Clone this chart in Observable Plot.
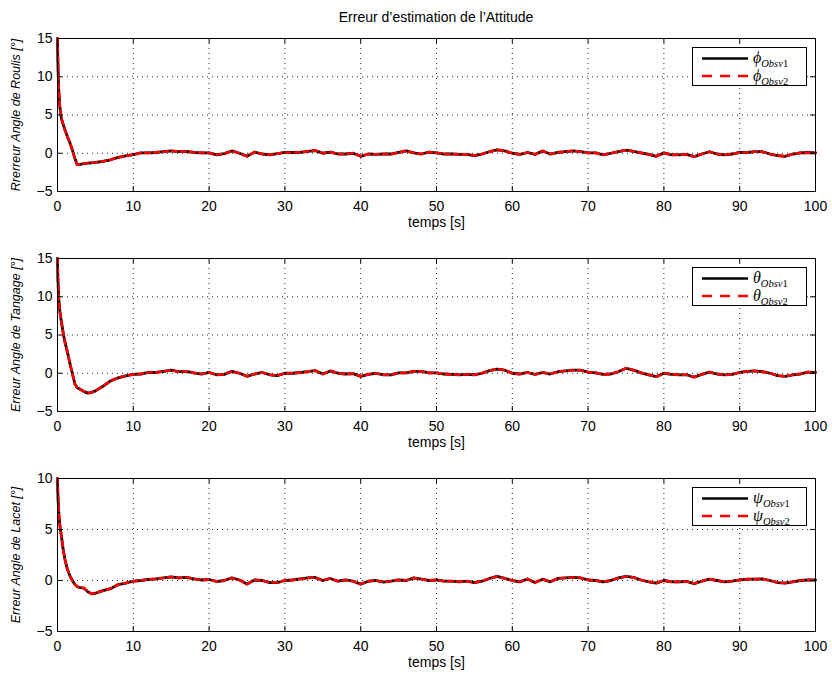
<!DOCTYPE html>
<html>
<head>
<meta charset="utf-8">
<script src="https://cdn.jsdelivr.net/npm/d3@7"></script>
<script src="https://cdn.jsdelivr.net/npm/@observablehq/plot@0.6"></script>
<style>
  body { margin: 0; background: #fff; }
  #chart { position: relative; width: 832px; height: 677px; font-family: "Liberation Sans", Arial, sans-serif; background: #fff; overflow: hidden; }
  #title { position: absolute; top: 9px; left: 57px; width: 758px; text-align: center; font-size: 14px; color: #000; }
  .panel { position: absolute; left: 0; }
  .legend { position: absolute; }
</style>
</head>
<body>
<div id="chart"><div id="title">Erreur d’estimation de l’Attitude</div></div>
<script>
// ---------------- DATA ----------------
const chartTitle = "Erreur d’estimation de l’Attitude";
const xLabel = "temps [s]";
const xTicks = [0, 10, 20, 30, 40, 50, 60, 70, 80, 90, 100];
const yTicksRollPitch = [-5, 0, 5, 10, 15];
const yTicksYaw = [-5, 0, 5, 10];
const yLabels = ["Rrerreur Angle de Roulis [°]", "Erreur Angle de Tangage [°]", "Erreur Angle de Lacet [°]"];
const seriesNames = ["Obsv1", "Obsv2"];
const symbols = ["ϕ", "θ", "ψ"];

const time = [0, 0.05, 0.15, 0.3, 0.5, 0.8, 1, 1.3, 1.7, 2, 2.3, 2.6, 3, 3.5, 4, 4.5, 5, 6, 7, 8, 9,
  10, 11, 12, 13, 14, 15, 16, 17, 18, 19,
  20, 21, 22, 23, 24, 25, 26, 27, 28, 29,
  30, 31, 32, 33, 34, 35, 36, 37, 38, 39,
  40, 41, 42, 43, 44, 45, 46, 47, 48, 49,
  50, 51, 52, 53, 54, 55, 56, 57, 58, 59,
  60, 61, 62, 63, 64, 65, 66, 67, 68, 69,
  70, 71, 72, 73, 74, 75, 76, 77, 78, 79,
  80, 81, 82, 83, 84, 85, 86, 87, 88, 89,
  90, 91, 92, 93, 94, 95, 96, 97, 98, 99,
  100];

const rollObsv1 = [15, 12, 8.5, 6.2, 4.6, 3.6, 3.0, 2.2, 1.2, 0.3, -0.7, -1.5, -1.45, -1.35, -1.3, -1.25, -1.2, -1.05, -0.85, -0.55, -0.35,
  -0.17, 0.05, 0.05, 0.1, 0.2, 0.3, 0.2, 0.25, 0.1, 0.05,
  0.05, -0.2, -0.05, 0.3, 0, -0.4, 0.15, -0.1, -0.2, -0.05,
  0.1, 0.1, 0.1, 0.25, 0.35, 0, 0.15, -0.1, -0.1, 0,
  -0.4, -0.1, -0.15, -0.1, -0.1, 0.1, 0.3, 0.05, -0.1, 0.15,
  0.05, -0.1, -0.1, -0.15, -0.15, -0.3, -0.1, 0.2, 0.45, 0.3,
  0, -0.15, 0.1, -0.15, 0.3, -0.1, 0.1, 0.2, 0.3, 0.2,
  0.05, 0.05, -0.2, 0, 0.2, 0.4, 0.25, 0.05, -0.15, -0.4,
  0.05, -0.2, -0.2, -0.15, -0.45, -0.1, 0.2, -0.1, -0.2, -0.1,
  0.1, 0.1, 0.2, 0.2, -0.1, -0.3, -0.4, -0.1, 0.05, 0.1,
  0.05];
const rollObsv2 = [15, 12.2, 8.6, 6.2, 4.6, 3.6, 3.0, 2.2, 1.2, 0.3, -0.7, -1.5, -1.45, -1.35, -1.3, -1.25, -1.2, -1.05, -0.85, -0.55, -0.35,
  -0.17, 0.05, 0.05, 0.12, 0.2, 0.3, 0.2, 0.25, 0.1, 0.05,
  0.05, -0.2, -0.05, 0.3, 0, -0.4, 0.15, -0.1, -0.2, -0.05,
  0.1, 0.1, 0.12, 0.25, 0.35, 0, 0.15, -0.1, -0.1, 0,
  -0.4, -0.1, -0.15, -0.1, -0.12, 0.1, 0.3, 0.05, -0.1, 0.15,
  0.05, -0.1, -0.1, -0.15, -0.15, -0.3, -0.1, 0.2, 0.45, 0.3,
  0, -0.15, 0.1, -0.15, 0.3, -0.1, 0.1, 0.2, 0.3, 0.2,
  0.05, 0.05, -0.2, 0, 0.2, 0.4, 0.25, 0.05, -0.15, -0.4,
  0.05, -0.2, -0.2, -0.15, -0.45, -0.1, 0.2, -0.1, -0.2, -0.1,
  0.1, 0.1, 0.2, 0.2, -0.1, -0.3, -0.4, -0.1, 0.05, 0.1,
  0.05];

const pitchObsv1 = [15, 12.5, 10, 8.2, 6.8, 5.0, 4.0, 2.8, 1.0, -0.2, -1.4, -1.9, -2.1, -2.4, -2.6, -2.5, -2.3, -1.7, -1.0, -0.6, -0.35,
  -0.15, -0.1, 0.1, 0.1, 0.25, 0.4, 0.2, 0.25, 0.05, -0.1,
  0.1, -0.2, -0.15, 0.25, 0, -0.4, -0.1, 0.1, -0.2, -0.3,
  0, 0, 0.1, 0.2, 0.35, -0.1, 0.3, 0, -0.1, -0.05,
  -0.4, -0.15, 0, -0.2, -0.2, 0.05, 0.05, 0.25, 0.25, 0.05,
  0.05, -0.1, -0.15, -0.2, -0.15, -0.2, 0, 0.35, 0.55, 0.4,
  0, -0.1, 0.1, -0.15, 0.1, -0.1, 0.2, 0.3, 0.4, 0.4,
  0.15, 0.05, -0.15, -0.1, 0.2, 0.65, 0.4, 0.05, -0.2, -0.45,
  0, -0.15, -0.2, -0.2, -0.5, -0.15, 0.15, -0.1, -0.2, -0.15,
  0.1, 0.25, 0.3, 0.2, 0, -0.3, -0.4, -0.2, -0.1, 0.15,
  0.1];
const pitchObsv2 = [15, 12.6, 10, 8.2, 6.8, 5.0, 4.0, 2.8, 1.0, -0.2, -1.4, -1.9, -2.1, -2.4, -2.6, -2.5, -2.3, -1.7, -1.0, -0.6, -0.35,
  -0.15, -0.1, 0.1, 0.1, 0.25, 0.4, 0.2, 0.25, 0.05, -0.1,
  0.1, -0.2, -0.15, 0.25, 0, -0.4, -0.1, 0.1, -0.2, -0.3,
  0, 0, 0.1, 0.2, 0.35, -0.1, 0.3, 0, -0.1, -0.05,
  -0.4, -0.15, 0, -0.2, -0.2, 0.05, 0.05, 0.25, 0.25, 0.05,
  0.05, -0.1, -0.15, -0.2, -0.15, -0.2, 0, 0.35, 0.55, 0.4,
  0, -0.1, 0.1, -0.15, 0.1, -0.1, 0.2, 0.3, 0.4, 0.4,
  0.15, 0.05, -0.15, -0.1, 0.2, 0.65, 0.4, 0.05, -0.2, -0.45,
  0, -0.15, -0.2, -0.2, -0.5, -0.15, 0.15, -0.1, -0.2, -0.15,
  0.1, 0.25, 0.3, 0.2, 0, -0.3, -0.4, -0.2, -0.1, 0.15,
  0.1];

const yawObsv1 = [10, 8.5, 6.8, 5.5, 4.4, 2.8, 2.0, 1.1, 0.35, -0.05, -0.4, -0.6, -0.7, -0.75, -1.1, -1.3, -1.25, -1.0, -0.8, -0.4, -0.25,
  -0.07, 0, 0.1, 0.15, 0.25, 0.35, 0.25, 0.3, 0.15, 0.05,
  0.1, -0.1, 0, 0.25, 0.05, -0.35, 0.05, 0, -0.2, -0.2,
  0, 0.05, 0.15, 0.25, 0.3, 0, 0.2, -0.07, 0.05, -0.07,
  -0.35, -0.07, 0, -0.15, -0.07, 0.05, 0, 0.25, 0.13, 0,
  0.05, -0.07, -0.07, -0.13, -0.07, -0.2, -0.07, 0.2, 0.4, 0.2,
  0, -0.13, 0.15, -0.2, 0.13, -0.13, 0.2, 0.25, 0.3, 0.25,
  0.05, 0, -0.13, 0, 0.25, 0.4, 0.3, 0.05, -0.13, -0.25,
  0, -0.13, -0.13, -0.1, -0.3, -0.07, 0.13, 0, -0.13, -0.07,
  0.05, 0.13, 0.13, 0.15, 0, -0.2, -0.25, -0.13, 0, 0.05,
  0.05];
const yawObsv2 = [10, 8.6, 6.8, 5.5, 4.4, 2.8, 2.0, 1.1, 0.35, -0.05, -0.4, -0.6, -0.7, -0.75, -1.1, -1.3, -1.25, -1.0, -0.8, -0.4, -0.25,
  -0.07, 0, 0.1, 0.15, 0.25, 0.35, 0.25, 0.3, 0.15, 0.05,
  0.1, -0.1, 0, 0.25, 0.05, -0.35, 0.05, 0, -0.2, -0.2,
  0, 0.05, 0.15, 0.25, 0.3, 0, 0.2, -0.07, 0.05, -0.07,
  -0.35, -0.07, 0, -0.15, -0.07, 0.05, 0, 0.25, 0.13, 0,
  0.05, -0.07, -0.07, -0.13, -0.07, -0.2, -0.07, 0.2, 0.4, 0.2,
  0, -0.13, 0.15, -0.2, 0.13, -0.13, 0.2, 0.25, 0.3, 0.25,
  0.05, 0, -0.13, 0, 0.25, 0.4, 0.3, 0.05, -0.13, -0.25,
  0, -0.13, -0.13, -0.1, -0.3, -0.07, 0.13, 0, -0.13, -0.07,
  0.05, 0.13, 0.13, 0.15, 0, -0.2, -0.25, -0.13, 0, 0.05,
  0.05];

// ---------------- DRAW ----------------
const chart = document.getElementById("chart");
document.getElementById("title").textContent = chartTitle;

const W = 832, H = 219, mL = 57, mR = 17, mT = 20, mB = 46;
const iw = W - mL - mR, ih = H - mT - mB;
const font = "'Liberation Sans', Arial, Helvetica, sans-serif";

function drawPanel(v1, v2, yDomain, yTicks, yLabel, sym, svgTop) {
  const rows1 = time.map((t, i) => ({t, v: v1[i]}));
  const rows2 = time.map((t, i) => ({t, v: v2[i]}));
  const plot = Plot.plot({
    width: W, height: H,
    marginLeft: mL, marginRight: mR, marginTop: mT, marginBottom: mB,
    style: {fontFamily: font, fontSize: "14px", background: "transparent", color: "#000", overflow: "visible"},
    x: {domain: [0, 100]},
    y: {domain: yDomain},
    marks: [
      Plot.gridX(xTicks, {stroke: "#000", strokeOpacity: 0.85, strokeWidth: 1, strokeDasharray: "1,4"}),
      Plot.gridY(yTicks, {stroke: "#000", strokeOpacity: 0.85, strokeWidth: 1, strokeDasharray: "1,4"}),
      Plot.line(rows1, {x: "t", y: "v", stroke: "#000", strokeWidth: 2.8}),
      Plot.line(rows2, {x: "t", y: "v", stroke: "#ff0000", strokeWidth: 2.6, strokeDasharray: "5,4"}),
      Plot.tickX(xTicks, {x: d => d, stroke: "#000", insetTop: ih - 5}),
      Plot.tickX(xTicks, {x: d => d, stroke: "#000", insetBottom: ih - 5}),
      Plot.tickY(yTicks, {y: d => d, stroke: "#000", insetRight: iw - 5}),
      Plot.tickY(yTicks, {y: d => d, stroke: "#000", insetLeft: iw - 5}),
      Plot.frame({stroke: "#000", strokeWidth: 1}),
      Plot.axisX(xTicks, {tickSize: 0, tickPadding: 10, label: null, fontSize: 14}),
      Plot.axisY(yTicks, {tickSize: 0, tickPadding: 5, label: null, fontSize: 14}),
      Plot.text([xLabel], {frameAnchor: "bottom", lineAnchor: "middle", dy: 31, fontSize: 14, fill: "#000"}),
      Plot.text([yLabel], {frameAnchor: "left", textAnchor: "middle", lineAnchor: "middle", rotate: -90, dx: -42, fontSize: 12.5, fontStyle: "italic", fill: "#000"})
    ]
  });
  plot.classList.add("panel");
  plot.style.top = svgTop + "px";
  chart.appendChild(plot);

  // legend (upper right of the axes box)
  const lg = document.createElement("div");
  lg.className = "legend";
  lg.style.left = "692px";
  lg.style.top = (svgTop + mT + 9) + "px";
  const sub = (name) => {
    const m = name.match(/^(\D+)(\d+)$/);
    return `<tspan dy="4" font-size="10.5" font-style="italic">${m[1]}</tspan><tspan font-size="10.5" font-style="normal">${m[2]}</tspan>`;
  };
  lg.innerHTML = `<svg width="116" height="40" xmlns="http://www.w3.org/2000/svg">
    <rect x="0.5" y="0.5" width="114" height="38" fill="#fff" stroke="#000" stroke-width="1"/>
    <line x1="10" x2="56" y1="11.5" y2="11.5" stroke="#000" stroke-width="2.5"/>
    <line x1="10" x2="56" y1="29" y2="29" stroke="#ff0000" stroke-width="2.5" stroke-dasharray="10,8"/>
    <text x="61" y="16" font-family="'Liberation Serif','DejaVu Serif',serif" font-style="italic" font-size="16" fill="#000">${sym}${sub(seriesNames[0])}</text>
    <text x="61" y="33.5" font-family="'Liberation Serif','DejaVu Serif',serif" font-style="italic" font-size="16" fill="#000">${sym}${sub(seriesNames[1])}</text>
  </svg>`;
  chart.appendChild(lg);
}

drawPanel(rollObsv1, rollObsv2, [-5, 15], yTicksRollPitch, yLabels[0], symbols[0], 18);
drawPanel(pitchObsv1, pitchObsv2, [-5, 15], yTicksRollPitch, yLabels[1], symbols[1], 238);
drawPanel(yawObsv1, yawObsv2, [-5, 10], yTicksYaw, yLabels[2], symbols[2], 458);
</script>
</body>
</html>
